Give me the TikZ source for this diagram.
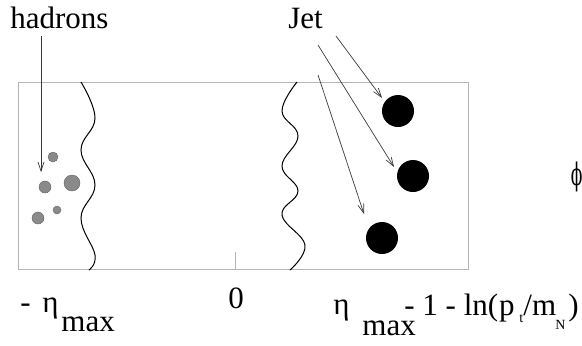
\documentclass[tikz,border=0pt]{standalone}
\usepackage{fontspec}
\setmainfont{Liberation Serif}
\newfontfamily\greekfont{DejaVu Serif}
\usepackage{xcolor}
\usetikzlibrary{arrows.meta}
\definecolor{frameGy} {HTML}{B4B4B4}
\definecolor{hadronGy}{HTML}{8A8A8A}
\definecolor{arrowGy} {HTML}{3A3A3A}

\begin{document}
\begin{tikzpicture}[
  x=0.5bp, y=-0.5bp,
  lab/.style={inner sep=0pt, anchor=base west, font=\fontsize{15.5bp}{18bp}\selectfont},
  sub/.style={inner sep=0pt, anchor=base west, font=\fontsize{7bp}{8bp}\selectfont},
  had/.style={circle, fill=hadronGy, draw=hadronGy!70!black, line width=0.2bp, inner sep=0pt},
  jet/.style={circle, fill=black, inner sep=0pt, minimum size=16bp},
  wave/.style={black, line width=0.5bp},
  >={Straight Barb[length=4.5bp,width=3bp]}, arr/.style={->, arrowGy, line width=0.35bp}
]
\useasboundingbox (0,0) rectangle (582,345);

% rapidity window
\draw[frameGy, line width=0.5bp] (18,82) rectangle (468,269);
\draw[frameGy, line width=0.4bp] (235,252) -- (235,269);

% gap boundaries
\draw[wave] plot[smooth, tension=0.7] coordinates
  {(81,82) (95,118) (81,150) (95,185) (81,218) (95,255) (89,270)};
\draw[wave] plot[smooth, tension=0.7] coordinates
  {(297,82) (282,111) (298,136) (282,166) (298,191) (282,215) (305,245) (290,270)};

% hadrons
\node[lab] (hadrons) at (10,28) {hadrons};
\node[had, minimum size=5bp] (h1) at (53,157) {};
\node[had, minimum size=6bp] (h2) at (45,187) {};
\node[had, minimum size=8bp] (h3) at (72,183) {};
\node[had, minimum size=4bp] (h4) at (57,210) {};
\node[had, minimum size=6bp] (h5) at (38,218) {};
\coordinate (htail) at (41,36);
\coordinate (hhead) at (41,172);
\draw[arr] (htail) -- (hhead);

% jets
\node[lab] (jetlab) at (288,28) {Jet};
\node[jet] (j1) at (398,111) {};
\node[jet] (j2) at (413,176) {};
\node[jet] (j3) at (382,238) {};
\coordinate (t1) at (336,36);
\coordinate (t2) at (318,45);
\coordinate (t3) at (318,75);
\coordinate (e1) at (382,98);
\coordinate (e2) at (394,167);
\coordinate (e3) at (364,214);
\draw[arr] (t1) -- (e1);
\draw[arr] (t2) -- (e2);
\draw[arr] (t3) -- (e3);

\node[lab, anchor=base east] (phi) at (583,185) {\greekfont\scalebox{0.55}[1]{ϕ}};

% axis labels
\node[lab] (mmin) at (20,312) {-};
\node[lab] (etaL) at (42,312) {η};
\node[lab] (maxL) at (61,331) {max};
\node[lab] (zero) at (228,308) {0};
\node[lab] (etaR) at (333,314) {η};
\node[lab] (maxR) at (362,335) {max};
\node[lab] (cut) at (404,315) {- 1 - ln(};
\node[lab] (pp) at (cut.base east) {p};
\node[sub] (ptt) at (519,322) {t};
\node[lab] (slm) at (523,315) {/m};
\node[sub] (mN) at (555,329) {N};
\node[lab] (rpar) at (568,315) {)};
\end{tikzpicture}
\end{document}
